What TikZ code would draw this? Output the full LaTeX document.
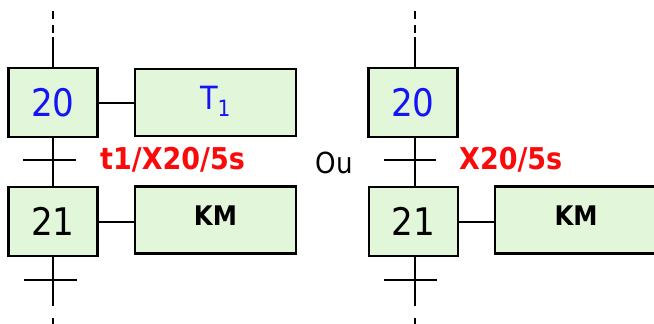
\documentclass[tikz,border=0pt]{standalone}
\usepackage{fontspec}
\usetikzlibrary{backgrounds}
\setmainfont{DejaVu Sans Condensed}[BoldFont={DejaVu Sans Condensed Bold}]
\definecolor{stepfill}{RGB}{226,246,218}
\definecolor{numblue}{RGB}{20,20,245}
\definecolor{condred}{RGB}{250,10,10}
\begin{document}
\begin{tikzpicture}[x=1pt,y=-1pt,
  box/.style={draw=black,line width=2.6pt,fill=stepfill,rectangle,inner sep=0pt},
  stepbox/.style={box,minimum width=89pt,minimum height=69pt,font=\fontsize{38}{42}\selectfont},
  actbox/.style={box,minimum width=161pt,minimum height=67pt},
  wire/.style={line width=2pt},
  dashwire/.style={line width=2pt,dash pattern=on 8pt off 6pt},
  tick/.style={line width=2.2pt},
  cond/.style={text=condred,font=\bfseries\fontsize{30}{33}\selectfont,inner sep=0pt,anchor=west}
]
\useasboundingbox (0,0) rectangle (654,324);
\clip (0,0) rectangle (654,324);

% ---------- left chart ----------
\node[stepbox,text=numblue] (sA) at (53,102.5) {20};
\node[stepbox] (sB) at (53,221.5) {21};
\node[actbox,text=numblue,font=\fontsize{32}{36}\selectfont,text depth=10pt] (aA) at (215.5,102.5) {T\textsubscript{1}};
\node[actbox,font=\bfseries\fontsize{27}{30}\selectfont,text depth=8pt] (aB) at (215.5,220) {KM};

\coordinate (tA) at (53,160);
\coordinate (tB) at (53,280);
\coordinate (topA) at (53,37);
\coordinate (topAd) at (53,11);
\coordinate (botA) at (53,303);
\coordinate (botAd) at (53,324);

\begin{scope}[on background layer]
\draw[dashwire] (topAd) -- (topA);
\draw[wire] (topA) -- (sA.north);
\draw[wire] (sA.south) -- (sB.north);
\draw[wire] (sB.south) -- (botA);
\draw[line width=2pt,dash pattern=on 3pt off 12pt on 8pt] (botA) -- (botAd);
\draw[wire] (sA.east) -- (aA.west |- sA.east);
\draw[wire] (sB.east |- 0,222) -- (aB.west |- 0,222);
\end{scope}
\draw[tick] ([xshift=-30pt]tA) -- ([xshift=23pt]tA);
\draw[tick] ([xshift=-29pt]tB) -- ([xshift=24pt]tB);
\node[cond] (cA) at (100,160) {t1/X20/5s};

% ---------- separator ----------
\node[font=\fontsize{29}{32}\selectfont,inner sep=0pt] (ou) at (334.5,163) {Ou};

% ---------- right chart ----------
\node[stepbox,text=numblue] (sC) at (413,102.5) {20};
\node[stepbox] (sD) at (413.5,221.5) {21};
\node[actbox,minimum width=162pt,font=\bfseries\fontsize{27}{30}\selectfont,text depth=8pt] (aD) at (576,220) {KM};

\coordinate (tC) at (415,160);
\coordinate (tD) at (415,280);
\coordinate (topC) at (415,37);
\coordinate (topCd) at (415,11);
\coordinate (botC) at (415,303);
\coordinate (botCd) at (415,324);

\begin{scope}[on background layer]
\draw[dashwire] (topCd) -- (topC);
\draw[wire] (topC) -- (topC |- sC.north);
\draw[wire] (topC |- sC.south) -- (topC |- sD.north);
\draw[wire] (topC |- sD.south) -- (botC);
\draw[line width=2pt,dash pattern=on 3pt off 12pt on 8pt] (botC) -- (botCd);
\draw[wire] (sD.east |- 0,222) -- (aD.west |- 0,222);
\end{scope}
\draw[tick] ([xshift=-31pt]tC) -- ([xshift=21pt]tC);
\draw[tick] ([xshift=-31pt]tD) -- ([xshift=22pt]tD);
\node[cond] (cC) at (459,160) {X20/5s};
\end{tikzpicture}
\end{document}
